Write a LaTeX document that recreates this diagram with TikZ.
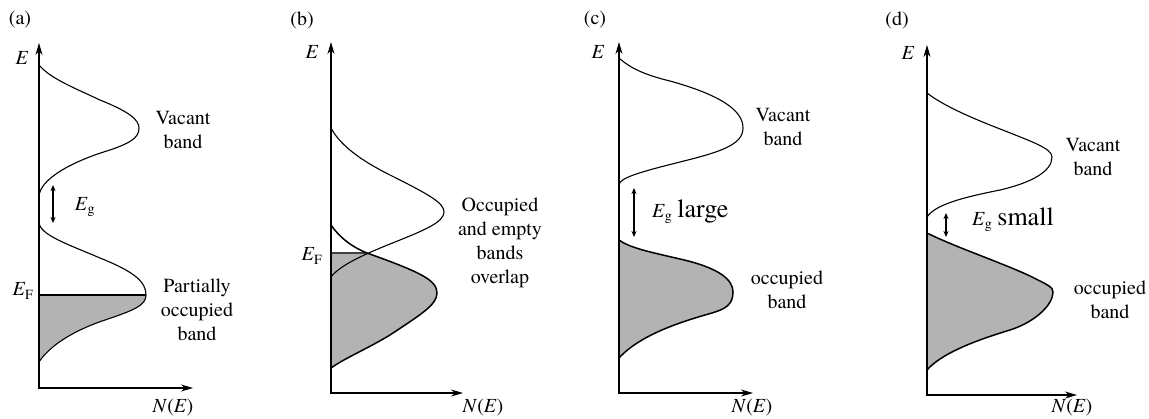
\documentclass[tikz,border=0pt]{standalone}
\usepackage{fontspec}
\setmainfont{texgyretermes}[Extension=.otf, UprightFont=*-regular,
  ItalicFont=*-italic, BoldFont=*-bold, BoldItalicFont=*-bolditalic]
\usepackage{xcolor}
\usepackage{tikz}
\usetikzlibrary{arrows.meta}
\definecolor{bandgray}{RGB}{179, 179, 179}
\newcommand{\Egap}{\textit{E}\textsubscript{g}}
\newcommand{\EFermi}{\textit{E}\textsubscript{F}}
\newcommand{\NofE}{\textit{N}(\textit{E})}

\begin{document}
\begin{tikzpicture}[
      x=1pt, y=-1pt,
      axis/.style={line width=1.1pt,
                   {Stealth[length=12pt,width=7pt]}-{Stealth[length=12pt,width=7pt]}},
      band/.style={line width=1.1pt},
      occband/.style={line width=1.5pt, fill=bandgray},
      gap/.style={line width=1.1pt,
                  {Stealth[length=6pt,width=5pt]}-{Stealth[length=6pt,width=5pt]}},
      lbl/.style={font=\fontsize{20}{24}\selectfont, align=center, inner sep=0pt},
      biglbl/.style={font=\fontsize{26}{30}\selectfont, inner sep=0pt}
    ]
    \useasboundingbox (0,0) rectangle (1149,418);

    % (a) metal, partially filled band
    \coordinate (aE) at (39,43);
    \coordinate (aN) at (193,388);
    \coordinate (aF) at (39,295);
    \coordinate (aFe) at (146,295);
    \coordinate (aG1) at (53,185);
    \coordinate (aG2) at (53,223);
    \fill[bandgray] (aF) -- (aFe) .. controls (146,305) and (135,310) .. (105,320)
      .. controls (75,330) and (50,345) .. (39,362) -- cycle;
    \draw[band] (39,65) .. controls (50,78) and (70,86) .. (100,100)
      .. controls (130,112) and (139,120) .. (139,128)
      .. controls (139,138) and (130,143) .. (110,150)
      .. controls (70,162) and (39,180) .. (39,197);
    \draw[band] (39,222) .. controls (39,235) and (70,245) .. (100,258)
      .. controls (135,272) and (146,282) .. (aFe)
      .. controls (146,305) and (135,310) .. (105,320)
      .. controls (75,330) and (50,345) .. (39,362);
    \draw[band] (aF) -- (aFe);
    \draw[axis] (aE) |- (aN);
    \draw[gap] (aG1) -- (aG2);
    \node[lbl] (la) at (20,20) {(a)};
    \node[lbl] (ea) at (22,58) {\textit{E}};
    \node[lbl] (ga) at (85,207) {\Egap};
    \node[lbl] (fa) at (23,291) {\EFermi};
    \node[lbl] (va) at (183,130) {Vacant\\band};
    \node[lbl] (oa) at (197,310) {Partially\\occupied\\band};
    \node[lbl] (na) at (173,408) {\NofE};

    % (b) overlapping bands
    \coordinate (bE) at (331,42);
    \coordinate (bN) at (463,393);
    \coordinate (bF) at (331,253);
    \coordinate (bFe) at (367,253);
    \fill[bandgray] (bF) -- (bFe) .. controls (420,272) and (437,280) .. (437,293)
      .. controls (437,305) and (420,315) .. (390,335)
      .. controls (365,350) and (345,358) .. (331,368) -- cycle;
    \draw[band, black!75] (bF) -- (bFe);
    \draw[occband, fill=none] (331,225) .. controls (340,238) and (352,247) .. (bFe)
      .. controls (420,272) and (437,280) .. (437,293)
      .. controls (437,305) and (420,315) .. (390,335)
      .. controls (365,350) and (345,358) .. (331,368);
    \draw[band] (331,128) .. controls (340,145) and (360,160) .. (390,175)
      .. controls (430,195) and (444,203) .. (444,212)
      .. controls (444,222) and (425,230) .. (395,242)
      .. controls (365,254) and (340,265) .. (331,277);
    \draw[axis] (bE) |- (bN);
    \node[lbl] (lb) at (302,20) {(b)};
    \node[lbl] (eb) at (312,52) {\textit{E}};
    \node[lbl] (fb) at (312,256) {\EFermi};
    \node[lbl] (ob) at (500,243) {Occupied\\and empty\\bands\\overlap};
    \node[lbl] (nb) at (483,408) {\NofE};

    % (c) insulator, large gap
    \coordinate (cE) at (619,42);
    \coordinate (cN) at (753,393);
    \coordinate (cG1) at (634,188);
    \coordinate (cG2) at (634,237);
    \draw[band] (619,58) .. controls (630,68) and (645,75) .. (670,81)
      .. controls (720,95) and (743,110) .. (743,128)
      .. controls (743,145) and (720,152) .. (680,162)
      .. controls (640,172) and (619,178) .. (619,185);
    \draw[occband] (619,240) .. controls (630,248) and (650,252) .. (680,259)
      .. controls (720,268) and (733,280) .. (733,292)
      .. controls (733,305) and (725,309) .. (712,313)
      .. controls (680,322) and (640,335) .. (619,358) -- cycle;
    \draw[axis] (cE) |- (cN);
    \draw[gap] (cG1) -- (cG2);
    \node[lbl] (lc) at (595,20) {(c)};
    \node[lbl] (ec) at (598,52) {\textit{E}};
    \node[lbl, anchor=base west] (gc) at (652,217) {\Egap\ {\fontsize{26}{30}\selectfont large}};
    \node[lbl] (vc) at (783,127) {Vacant\\band};
    \node[lbl] (oc) at (787,290) {occupied\\band};
    \node[lbl] (nc) at (752,408) {\NofE};

    % (d) semiconductor, small gap
    \coordinate (dE) at (927,45);
    \coordinate (dN) at (1077,395);
    \coordinate (dG1) at (946,213);
    \coordinate (dG2) at (946,237);
    \draw[band] (927,93) .. controls (940,103) and (960,113) .. (990,125)
      .. controls (1030,141) and (1052,148) .. (1052,157)
      .. controls (1052,172) and (1030,183) .. (1000,190)
      .. controls (960,198) and (935,205) .. (927,217);
    \draw[occband] (927,233) .. controls (955,247) and (1000,262) .. (1030,276)
      .. controls (1048,285) and (1053,287) .. (1053,292)
      .. controls (1053,305) and (1035,322) .. (1010,330)
      .. controls (970,342) and (940,355) .. (927,370) -- cycle;
    \draw[axis] (dE) |- (dN);
    \draw[gap] (dG1) -- (dG2);
    \node[lbl] (ld) at (897,20) {(d)};
    \node[lbl] (ed) at (908,53) {\textit{E}};
    \node[lbl, anchor=base west] (gd) at (972,225) {\Egap\ {\fontsize{26}{30}\selectfont small}};
    \node[lbl] (vd) at (1093,157) {Vacant\\band};
    \node[lbl] (od) at (1110,300) {occupied\\band};
    \node[lbl] (nd) at (1072,408) {\NofE};
  \end{tikzpicture}
\end{document}
